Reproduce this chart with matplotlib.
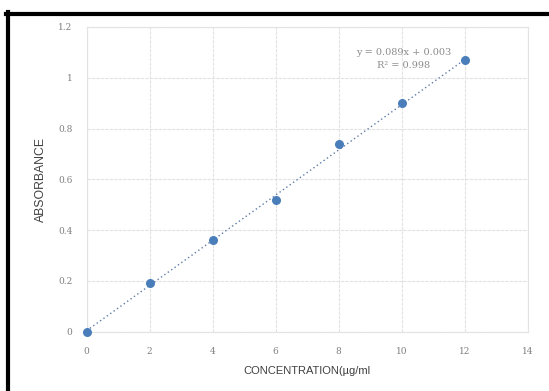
import matplotlib
matplotlib.use("Agg")
import matplotlib.pyplot as plt
from matplotlib.lines import Line2D
import numpy as np

# Calibration data
concentration = [0, 2, 4, 6, 8, 10, 12]
absorbance = [0.0, 0.19, 0.36, 0.52, 0.74, 0.90, 1.07]
slope = 0.089
intercept = 0.003
r_squared = 0.998

x_ticks = [0, 2, 4, 6, 8, 10, 12, 14]
y_ticks = [0, 0.2, 0.4, 0.6, 0.8, 1.0, 1.2]
y_tick_labels = ["0", "0.2", "0.4", "0.6", "0.8", "1", "1.2"]

W, H = 549, 391
fig = plt.figure(figsize=(W / 100, H / 100), dpi=100)
fig.patch.set_facecolor("white")

ax = fig.add_axes([86.5 / W, (H - 331.5) / H, 441 / W, 304.5 / H])
ax.set_xlim(0, 14)
ax.set_ylim(0, 1.2)

grid_col = "#e2e2e2"
ax.set_xticks(x_ticks)
ax.set_yticks(y_ticks)
ax.set_xticklabels([str(t) for t in x_ticks])
ax.set_yticklabels(y_tick_labels)
ax.grid(True, color=grid_col, linewidth=0.8, linestyle=(0, (3, 1)))
ax.set_axisbelow(True)
for s in ax.spines.values():
    s.set_color(grid_col)
    s.set_linewidth(0.8)

tick_font = dict(family="DejaVu Serif", size=6.5, color="#7f7f7f")
ax.tick_params(axis="both", length=0)
ax.tick_params(axis="x", pad=11)
ax.tick_params(axis="y", pad=10)
for lab in ax.get_xticklabels() + ax.get_yticklabels():
    lab.set_fontfamily(tick_font["family"])
    lab.set_fontsize(tick_font["size"])
    lab.set_color(tick_font["color"])

# Linear trendline over the measured range
xs = np.array([concentration[0], concentration[-1]])
ax.plot(xs, slope * xs + intercept, linestyle=(0, (1, 2)), color="#5f7ca8",
        linewidth=1.0, zorder=2)

ax.scatter(concentration, absorbance, s=30, color="#4a7ebb", zorder=3,
           clip_on=False)

ax.text(10.08, 1.101, f"y = {slope}x + {intercept}", ha="center", va="center",
        fontsize=7, family="DejaVu Serif", color="#8c8c8c")
ax.text(10.08, 1.050, f"R\u00b2 = {r_squared}", ha="center", va="center",
        fontsize=7, family="DejaVu Serif", color="#8c8c8c")

ax.set_xlabel("CONCENTRATION(\u00b5g/ml", fontsize=8.0, color="#404040",
              family="Liberation Sans", labelpad=7)
ax.set_ylabel("ABSORBANCE", fontsize=8.8, color="#404040",
              family="Liberation Sans", labelpad=8)

# Heavy frame on the top and left edges
fig.add_artist(Line2D([7.5 / W, 7.5 / W], [0, (H - 12) / H], color="black",
                      linewidth=3.0, transform=fig.transFigure))
fig.add_artist(Line2D([6 / W, 1], [(H - 13.5) / H, (H - 13.5) / H],
                      color="black", linewidth=3.0, transform=fig.transFigure))

fig.savefig("out.png", dpi=100, facecolor="white")
